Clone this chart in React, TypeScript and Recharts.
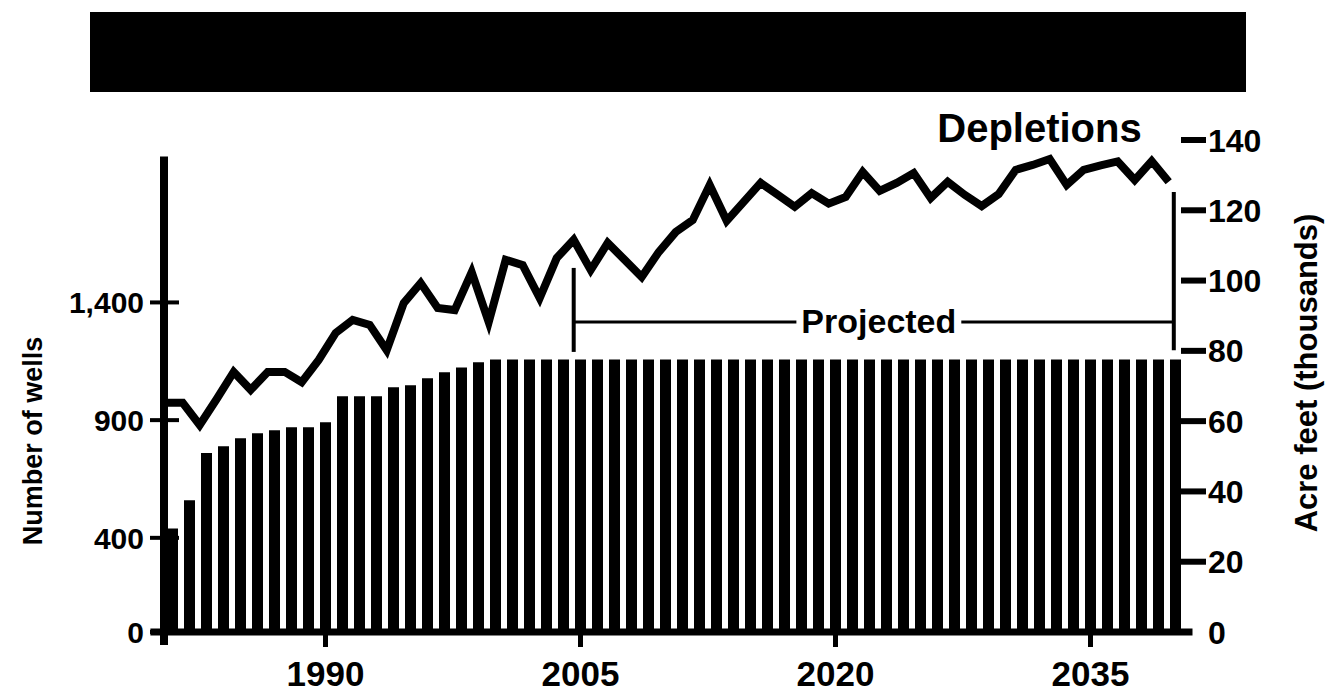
import React from 'react';
import { ComposedChart, Bar, Line, XAxis, YAxis, ReferenceLine } from 'recharts';

const FONT = '"Liberation Sans", Arial, Helvetica, sans-serif';

const years = [
  1981, 1982, 1983, 1984, 1985, 1986, 1987, 1988, 1989, 1990,
  1991, 1992, 1993, 1994, 1995, 1996, 1997, 1998, 1999, 2000,
  2001, 2002, 2003, 2004, 2005, 2006, 2007, 2008, 2009, 2010,
  2011, 2012, 2013, 2014, 2015, 2016, 2017, 2018, 2019, 2020,
  2021, 2022, 2023, 2024, 2025, 2026, 2027, 2028, 2029, 2030,
  2031, 2032, 2033, 2034, 2035, 2036, 2037, 2038, 2039, 2040,
];

// number of wells (left axis)
const wells = [
  440, 560, 760, 789, 823, 844, 857, 870, 870, 891,
  1001, 1001, 1001, 1040, 1048, 1078, 1103, 1124, 1146, 1158,
  1158, 1158, 1158, 1158, 1158, 1158, 1158, 1158, 1158, 1158,
  1158, 1158, 1158, 1158, 1158, 1158, 1158, 1158, 1158, 1158,
  1158, 1158, 1158, 1158, 1158, 1158, 1158, 1158, 1158, 1158,
  1158, 1158, 1158, 1158, 1158, 1158, 1158, 1158, 1158, 1158,
];

// depletions, thousands of acre feet (right axis)
const depletions = [
  65.2, 65.2, 58.9, 66.3, 74.0, 68.9, 74.0, 74.0, 71.1, 77.4,
  85.1, 88.8, 87.4, 80.2, 93.6, 99.3, 92.2, 91.6, 102.4, 88.2,
  105.9, 104.4, 95.0, 106.4, 111.6, 103.0, 110.7, 105.9, 101.0, 108.1,
  113.8, 117.2, 127.2, 117.0, 122.4, 127.8, 124.4, 121.0, 124.9, 121.9,
  123.8, 130.9, 125.5, 127.8, 130.6, 123.5, 128.1, 124.4, 121.2, 124.6,
  131.5, 132.9, 134.6, 127.2, 131.5, 132.8, 133.9, 128.6, 134.0, 128.1,
];

const wellTicks = [0, 400, 900, 1400];
const acreTicks = [0, 20, 40, 60, 80, 100, 120, 140];
const yearTicks = [1990, 2005, 2020, 2035];

const projectedStart = 2005;
const projectedEnd = 2040.3;

const data = years.map((year, i) => ({ year, wells: wells[i], depletions: depletions[i] }));

const WellTick = (props: any) => {
  const { x, y, payload } = props;
  return (
    <g>
      <line x1={x - 14} x2={x + 15} y1={y} y2={y} stroke="#000" strokeWidth={4} />
      <text x={x - 20} y={y} dy="0.36em" textAnchor="end" fontSize={30} fontWeight="bold" fontFamily={FONT} fill="#000">
        {payload.value.toLocaleString('en-US')}
      </text>
    </g>
  );
};

const AcreTick = (props: any) => {
  const { x, y, payload } = props;
  return (
    <g>
      {payload.value !== 0 && <rect x={x - 3} y={y - 3} width={25} height={6} fill="#000" />}
      <text x={x + 24} y={y} dy="0.36em" textAnchor="start" fontSize={32} fontWeight="bold" fontFamily={FONT} fill="#000">
        {payload.value}
      </text>
    </g>
  );
};

const YearTick = (props: any) => {
  const { x, y, payload } = props;
  return (
    <g>
      <rect x={x - 2.5} y={y} width={5} height={15} fill="#000" />
      <text x={x} y={y + 54} textAnchor="middle" fontSize={35} fontWeight="bold" fontFamily={FONT} fill="#000">
        {payload.value}
      </text>
    </g>
  );
};

const WellsTitle = (props: any) => {
  const { viewBox } = props;
  const cx = viewBox.x - 71;
  const cy = viewBox.y + 301;
  return (
    <text x={cx} y={cy} transform={`rotate(-90 ${cx} ${cy})`} textAnchor="middle" dominantBaseline="central"
      fontSize={27} fontWeight="bold" fontFamily={FONT} fill="#000">
      Number of wells
    </text>
  );
};

const AcreTitle = (props: any) => {
  const { viewBox } = props;
  const cx = viewBox.x + 122;
  const cy = viewBox.y + 233;
  return (
    <text x={cx} y={cy} transform={`rotate(-90 ${cx} ${cy})`} textAnchor="middle" dominantBaseline="central"
      fontSize={31} fontWeight="bold" fontFamily={FONT} fill="#000">
      Acre feet (thousands)
    </text>
  );
};

const bigLabel = (value: string, size: number) => ({
  value,
  position: 'center' as const,
  fontSize: size,
  fontWeight: 'bold',
  fontFamily: FONT,
  fill: '#000',
});

export default function App() {
  return (
    <div style={{ position: 'absolute', left: 0, top: 0, width: 1327, height: 696, background: '#fff', overflow: 'hidden' }}>
      <div style={{ position: 'absolute', left: 90, top: 12, width: 1156, height: 80, background: '#000' }} />
      <div style={{ position: 'absolute', left: 0, top: 0 }}>
        <ComposedChart
          width={1327}
          height={696}
          data={data}
          margin={{ top: 140, right: 43, bottom: 4, left: 104 }}
        >
          <XAxis
            xAxisId="bars"
            dataKey="year"
            type="category"
            ticks={yearTicks}
            interval={0}
            height={60}
            axisLine={false}
            tickLine={false}
            tickSize={0}
            tickMargin={0}
            tick={<YearTick />}
          />
          <XAxis xAxisId="line" dataKey="year" type="number" domain={[1980.9, 2040.9]} allowDataOverflow hide />
          <YAxis
            yAxisId="left"
            orientation="left"
            domain={[0, 2090]}
            ticks={wellTicks}
            width={60}
            axisLine={false}
            tickLine={false}
            tickSize={0}
            tickMargin={0}
            tick={<WellTick />}
            label={<WellsTitle />}
          />
          <YAxis
            yAxisId="right"
            orientation="right"
            domain={[0, 140]}
            ticks={acreTicks}
            width={100}
            axisLine={false}
            tickLine={false}
            tickSize={0}
            tickMargin={0}
            tick={<AcreTick />}
            label={<AcreTitle />}
          />
          <Bar xAxisId="bars" yAxisId="left" dataKey="wells" fill="#000" barSize={11} isAnimationActive={false} />
          <Line
            xAxisId="line"
            yAxisId="right"
            dataKey="depletions"
            type="linear"
            stroke="#000"
            strokeWidth={8}
            strokeLinejoin="miter"
            dot={false}
            activeDot={false}
            isAnimationActive={false}
          />
          {/* left axis line, reaching a little below the baseline */}
          <ReferenceLine
            xAxisId="line"
            yAxisId="left"
            segment={[{ x: 1980.9, y: -55 }, { x: 1980.9, y: 2020 }]}
            stroke="#000"
            strokeWidth={8}
            ifOverflow="visible"
          />
          {/* baseline */}
          <ReferenceLine
            xAxisId="line"
            yAxisId="left"
            segment={[{ x: 1980.1, y: 0 }, { x: 2041.4, y: 0 }]}
            stroke="#000"
            strokeWidth={7}
            ifOverflow="visible"
          />
          {/* Projected bracket */}
          <ReferenceLine
            xAxisId="line"
            yAxisId="right"
            segment={[{ x: projectedStart, y: 79.7 }, { x: projectedStart, y: 103.6 }]}
            stroke="#000"
            strokeWidth={4}
            ifOverflow="visible"
          />
          <ReferenceLine
            xAxisId="line"
            yAxisId="right"
            segment={[{ x: projectedEnd, y: 80.2 }, { x: projectedEnd, y: 125.2 }]}
            stroke="#000"
            strokeWidth={4}
            ifOverflow="visible"
          />
          <ReferenceLine
            xAxisId="line"
            yAxisId="right"
            segment={[{ x: projectedStart, y: 88.2 }, { x: 2018.1, y: 88.2 }]}
            stroke="#000"
            strokeWidth={3}
            ifOverflow="visible"
          />
          <ReferenceLine
            xAxisId="line"
            yAxisId="right"
            segment={[{ x: 2027.8, y: 88.2 }, { x: projectedEnd, y: 88.2 }]}
            stroke="#000"
            strokeWidth={3}
            ifOverflow="visible"
          />
          <ReferenceLine
            xAxisId="line"
            yAxisId="right"
            segment={[{ x: 2018.1, y: 88.6 }, { x: 2027.8, y: 88.6 }]}
            stroke="none"
            ifOverflow="visible"
            label={bigLabel('Projected', 34)}
          />
          <ReferenceLine
            xAxisId="line"
            yAxisId="right"
            segment={[{ x: 2026.4, y: 143.4 }, { x: 2038.4, y: 143.4 }]}
            stroke="none"
            ifOverflow="visible"
            label={bigLabel('Depletions', 40)}
          />
        </ComposedChart>
      </div>
    </div>
  );
}
